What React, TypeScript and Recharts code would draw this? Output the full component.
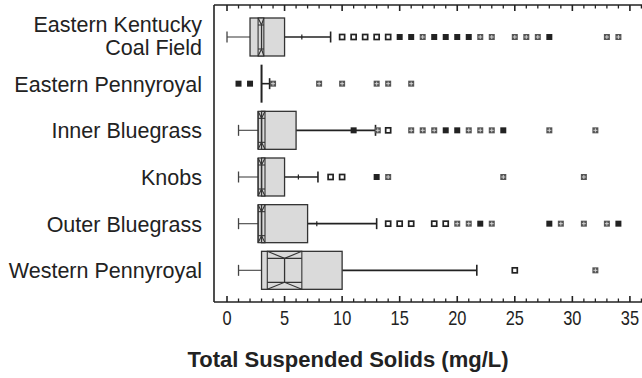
import React from 'react';
import { ComposedChart, Bar, XAxis, YAxis, Label } from 'recharts';

// ---- data ----
const regions = [
  'Eastern Kentucky\nCoal Field',
  'Eastern Pennyroyal',
  'Inner Bluegrass',
  'Knobs',
  'Outer Bluegrass',
  'Western Pennyroyal',
];
const lowerWhisker = [0, 3, 1, 1, 1, 1];
const quartile1 = [2, 3, 3, 3, 3, 3];
const notchLow = [2.7, 3, 2.7, 2.7, 2.7, 3.5];
const medians = [3, 3, 3, 3, 3, 5];
const notchHigh = [3.2, 3, 3.3, 3.3, 3.3, 6.5];
const quartile3 = [5, 3, 6, 5, 7, 10];
const upperWhisker = [9, 3.7, 12.9, 7.9, 13, 21.7];
const means: (number | null)[] = [6.5, 3.7, null, 6.2, 7.8, null];

// outliers: [value, number of overlapping observations]
type Outlier = [number, number];
const outliersEasternKentucky: Outlier[] = [
  [10, 1], [11, 1], [12, 1], [13, 1], [14, 1], [15, 4], [16, 4], [17, 2], [18, 4], [19, 4],
  [20, 4], [21, 4], [22, 2], [23, 2], [25, 2], [26, 2], [27, 2], [28, 4], [33, 2], [34, 2],
];
const outliersEasternPennyroyal: Outlier[] = [
  [1, 4], [2, 4], [4, 2], [8, 2], [10, 2], [13, 2], [14, 2], [16, 2],
];
const outliersInnerBluegrass: Outlier[] = [
  [11, 4], [13.1, 2], [14, 1], [16, 2], [17, 2], [18, 2], [19, 4], [20, 4], [21, 2], [22, 2],
  [23, 2], [24, 4], [28, 2], [32, 2],
];
const outliersKnobs: Outlier[] = [[9, 1], [10, 1], [13, 4], [14, 2], [24, 2], [31, 2]];
const outliersOuterBluegrass: Outlier[] = [
  [14, 1], [15, 1], [16, 1], [18, 1], [19, 1], [20, 2], [21, 2], [22, 4], [23, 2], [28, 4],
  [29, 2], [31, 2], [33, 2], [34, 4],
];
const outliersWesternPennyroyal: Outlier[] = [[25, 1], [32, 2]];
const outliers = [
  outliersEasternKentucky,
  outliersEasternPennyroyal,
  outliersInnerBluegrass,
  outliersKnobs,
  outliersOuterBluegrass,
  outliersWesternPennyroyal,
];

const xDomain: [number, number] = [-1.13, 36.05];
const xTicks = Array.from({ length: 37 }, (_, i) => i);

const rows = regions.map((name, i) => ({
  name,
  lw: lowerWhisker[i],
  q1: quartile1[i],
  nLo: notchLow[i],
  med: medians[i],
  nHi: notchHigh[i],
  q3: quartile3[i],
  uw: upperWhisker[i],
  mean: means[i],
  out: outliers[i],
  range: [lowerWhisker[i], upperWhisker[i]],
}));

const FONT = '"Liberation Sans", Arial, Helvetica, sans-serif';
const INK = '#222';
const BOX_FILL = '#dadada';

function BoxShape(props: any) {
  const { x, y, width, height, payload } = props;
  const d = payload;
  const s = (v: number) => x + ((v - d.lw) / (d.uw - d.lw)) * width;
  const top = y;
  const bot = y + height;
  const cy = y + height / 2;
  const dep = 7;
  const els: React.ReactNode[] = [];
  if (d.lw < d.q1) {
    els.push(<line key="lw" x1={s(d.lw)} x2={s(d.q1)} y1={cy} y2={cy} stroke="#555" strokeWidth={1.2} />);
    els.push(<line key="lwc" x1={s(d.lw)} x2={s(d.lw)} y1={cy - 5.5} y2={cy + 5.5} stroke="#444" strokeWidth={1.3} />);
  }
  if (d.uw > d.q3) {
    els.push(<line key="uw" x1={s(d.q3)} x2={s(d.uw)} y1={cy} y2={cy} stroke={INK} strokeWidth={1.6} />);
    els.push(<line key="uwc" x1={s(d.uw)} x2={s(d.uw)} y1={cy - 5.5} y2={cy + 5.5} stroke={INK} strokeWidth={1.6} />);
  }
  if (d.mean != null) {
    els.push(<line key="mean" x1={s(d.mean)} x2={s(d.mean)} y1={cy - 2.5} y2={cy + 2.5} stroke={INK} strokeWidth={1.2} />);
  }
  if (d.nHi > d.nLo) {
    const a = s(d.nLo), b = s(d.nHi);
    els.push(<rect key="nr" x={a} y={top} width={b - a} height={height} fill={BOX_FILL} stroke="#333" strokeWidth={1.2} />);
  }
  if (d.q3 > d.q1) {
    els.push(<rect key="box" x={s(d.q1)} y={top} width={s(d.q3) - s(d.q1)} height={height} fill={BOX_FILL} stroke="#333" strokeWidth={1.3} />);
  } else {
    els.push(<line key="boxl" x1={s(d.q1)} x2={s(d.q1)} y1={top} y2={bot} stroke={INK} strokeWidth={2} />);
  }
  if (d.nHi > d.nLo) {
    const a = s(d.nLo), m = s(d.med), b = s(d.nHi);
    els.push(
      <g key="notch" fill="none" stroke="#333" strokeWidth={1.1}>
        <line x1={a} x2={a} y1={top} y2={bot} />
        <line x1={b} x2={b} y1={top} y2={bot} />
        <polyline points={`${a},${top} ${m},${top + dep} ${b},${top}`} />
        <polyline points={`${a},${bot} ${m},${bot - dep} ${b},${bot}`} />
        <line x1={a} x2={b} y1={top + dep} y2={top + dep} />
        <line x1={a} x2={b} y1={bot - dep} y2={bot - dep} />
        <line x1={m} x2={m} y1={top + dep} y2={bot - dep} strokeWidth={1.3} />
      </g>
    );
  }
  d.out.forEach(([v, n]: Outlier, i: number) => {
    const px = s(v);
    if (n >= 4) {
      els.push(<rect key={`o${i}`} x={px - 3} y={cy - 3} width={6} height={6} fill={INK} />);
    } else if (n >= 2) {
      els.push(
        <g key={`o${i}`}>
          <rect x={px - 3} y={cy - 3} width={6} height={6} fill="#555" />
          <line x1={px} x2={px} y1={cy - 2} y2={cy + 2} stroke="#ddd" strokeWidth={0.9} />
          <line x1={px - 2} x2={px + 2} y1={cy} y2={cy} stroke="#ddd" strokeWidth={0.9} />
        </g>
      );
    } else {
      els.push(<rect key={`o${i}`} x={px - 2.5} y={cy - 2.5} width={5} height={5} fill="#fff" stroke={INK} strokeWidth={1.7} />);
    }
  });
  return <g>{els}</g>;
}

function RegionTick(props: any) {
  const { x, y, payload } = props;
  const lines = String(payload.value).split('\n');
  const first = lines.length > 1 ? y - 5.6 : y + 7.7;
  return (
    <text x={x} y={first} textAnchor="end" fontFamily={FONT} fontSize={21.5} fill={INK}>
      {lines.map((t, i) => (
        <tspan key={i} x={x} y={first + i * 23.3}>{t}</tspan>
      ))}
    </text>
  );
}

function BottomTick(props: any) {
  const { x, y, payload } = props;
  const major = payload.value % 5 === 0;
  return (
    <g>
      <line x1={x} x2={x} y1={y} y2={y - (major ? 6 : 3.5)} stroke={INK} strokeWidth={major ? 1.6 : 1.3} />
      {major && (
        <text transform={`translate(${x},${y + 23}) scale(0.82,1)`} textAnchor="middle" fontFamily={FONT} fontSize={20} fill={INK}>
          {payload.value}
        </text>
      )}
    </g>
  );
}

function TopTick(props: any) {
  const { x, y, payload } = props;
  const major = payload.value % 5 === 0;
  return <line x1={x} x2={x} y1={y} y2={y + (major ? 6 : 3.5)} stroke={INK} strokeWidth={major ? 1.6 : 1.3} />;
}

function TitleLabel() {
  return (
    <text x={348} y={367} textAnchor="middle" fontFamily={FONT} fontWeight="bold" fontSize={22} fill={INK}>
      Total Suspended Solids (mg/L)
    </text>
  );
}

export default function App() {
  return (
    <div style={{ position: 'fixed', left: 0, top: 0, width: 642, height: 378, overflow: 'hidden', background: '#fff' }}>
      <ComposedChart
        width={642}
        height={378}
        data={rows}
        layout="vertical"
        margin={{ top: 4, right: 0, bottom: 46, left: 0 }}
      >
        <XAxis
          xAxisId="b"
          type="number"
          orientation="bottom"
          domain={xDomain}
          ticks={xTicks}
          interval={0}
          allowDataOverflow
          height={30}
          tickSize={0}
          tickMargin={0}
          tick={<BottomTick />}
          axisLine={{ stroke: INK, strokeWidth: 1.6 }}
        >
          <Label content={<TitleLabel />} />
        </XAxis>
        <XAxis
          xAxisId="t"
          type="number"
          orientation="top"
          domain={xDomain}
          ticks={xTicks}
          interval={0}
          allowDataOverflow
          height={1}
          tickSize={0}
          tickMargin={0}
          tick={<TopTick />}
          axisLine={{ stroke: INK, strokeWidth: 1.6 }}
        />
        <YAxis
          type="category"
          dataKey="name"
          width={214}
          tickSize={0}
          tickMargin={12}
          interval={0}
          padding={{ top: 9, bottom: 8 }}
          tick={<RegionTick />}
          axisLine={{ stroke: INK, strokeWidth: 1.6 }}
        />
        <Bar xAxisId="b" dataKey="range" barSize={38} shape={<BoxShape />} isAnimationActive={false} />
      </ComposedChart>
    </div>
  );
}
